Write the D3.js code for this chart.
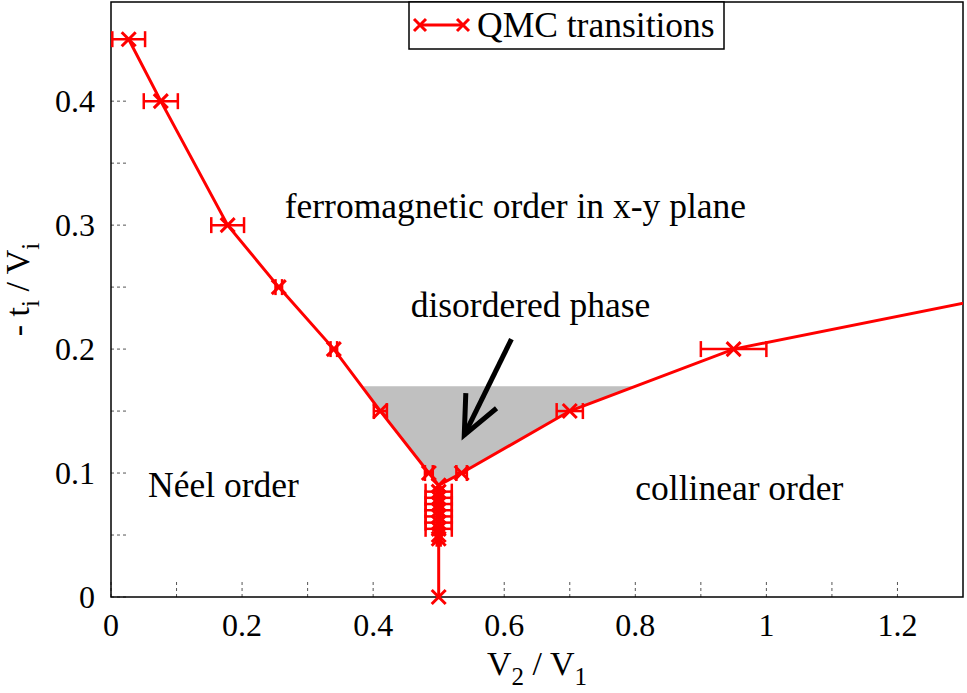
<!DOCTYPE html>
<html lang="en">
<head>
    <meta charset="UTF-8">
    <script src="https://d3js.org/d3.v7.min.js"></script>
    <title>QMC phase diagram</title>
    <style>
        body { margin: 0; background: white; }
    </style>
</head>
<body>
    <div class="fig"></div>
    <script>
        /*------------------- Data --------------------*/
        // main transition line (Neel -> disordered -> collinear)
        const mainX   = [0.027, 0.076, 0.178, 0.256, 0.340, 0.411, 0.485, 0.500, 0.535, 0.700, 0.950, 1.500];
        const mainY   = [0.45, 0.40, 0.30, 0.25, 0.20, 0.15, 0.10, 0.09, 0.10, 0.15, 0.20, 0.258];
        const mainErr = [0.025, 0.026, 0.025, 0.005, 0.005, 0.010, 0.006, 0.000, 0.008, 0.020, 0.050, 0.000];

        // vertical branch at V2/V1 = 0.5
        const vertX   = [0.5, 0.5, 0.5, 0.5, 0.5, 0.5, 0.5, 0.5, 0.5, 0.5, 0.5];
        const vertY   = [0.09, 0.085, 0.08, 0.075, 0.07, 0.065, 0.06, 0.055, 0.05, 0.047, 0.0];
        const vertErr = [0.0, 0.02, 0.02, 0.02, 0.02, 0.02, 0.02, 0.02, 0.003, 0.003, 0.0];

        // shaded disordered region
        const shadeX = [0.385, 0.411, 0.485, 0.500, 0.535, 0.700, 0.800];
        const shadeY = [0.17, 0.15, 0.10, 0.09, 0.10, 0.15, 0.17];

        const xTicks = [0, 0.2, 0.4, 0.6, 0.8, 1.0, 1.2];
        const xMinor = [0.1, 0.3, 0.5, 0.7, 0.9, 1.1];
        const yTicks = [0, 0.1, 0.2, 0.3, 0.4];
        const yMinor = [0.05, 0.15, 0.25, 0.35, 0.45];

        // annotation labels: [text, x, y, anchor]
        const labels = [
            ["ferromagnetic order in x-y plane", 0.617, 0.306, "middle"],
            ["disordered phase", 0.640, 0.226, "middle"],
            ["Néel order", 0.0565, 0.0805, "start"],
            ["collinear order", 0.800, 0.0785, "start"]
        ];
        const arrowFrom = [0.611, 0.208];
        const arrowTo = [0.539, 0.1306];

        /*------------------- Layout --------------------*/
        const width = 967, height = 693;
        const margin = { top: 2, right: 4, bottom: 96, left: 111 };
        const red = "#ff0000";
        const serif = "'Liberation Serif', 'Times New Roman', 'DejaVu Serif', serif";

        const svg = d3.select(".fig").append("svg")
            .attr("width", width)
            .attr("height", height)
            .attr("font-family", serif);

        const x = d3.scaleLinear().domain([0, 1.3]).range([margin.left, width - margin.right]);
        const y = d3.scaleLinear().domain([0, 0.48]).range([height - margin.bottom, margin.top]);

        svg.append("clipPath").attr("id", "plotclip")
            .append("rect")
            .attr("x", x(0)).attr("y", y(0.48))
            .attr("width", x(1.3) - x(0)).attr("height", y(0) - y(0.48));

        // shaded region
        svg.append("path")
            .datum(d3.zip(shadeX, shadeY))
            .attr("d", d3.line().x(d => x(d[0])).y(d => y(d[1])))
            .attr("fill", "#c0c0c0")
            .attr("stroke", "none");

        // ticks (short dashed marks inside the frame)
        const tickLen = 16;
        svg.append("g").selectAll("line")
            .data(xTicks.concat(xMinor))
            .join("line")
            .attr("x1", d => x(d)).attr("x2", d => x(d))
            .attr("y1", y(0)).attr("y2", y(0) - tickLen)
            .attr("stroke", "#555").attr("stroke-width", 1)
            .attr("stroke-dasharray", "3,3");
        svg.append("g").selectAll("line")
            .data(yTicks.concat(yMinor))
            .join("line")
            .attr("x1", x(0)).attr("x2", x(0) + tickLen)
            .attr("y1", d => y(d)).attr("y2", d => y(d))
            .attr("stroke", "#555").attr("stroke-width", 1)
            .attr("stroke-dasharray", "3,3");

        // tick labels
        svg.append("g").selectAll("text")
            .data(xTicks)
            .join("text")
            .attr("x", d => x(d))
            .attr("y", y(0) + 39)
            .attr("text-anchor", "middle")
            .attr("font-size", 32)
            .text(d => +d.toFixed(1));
        svg.append("g").selectAll("text")
            .data(yTicks)
            .join("text")
            .attr("x", x(0) - 16)
            .attr("y", d => y(d) + 11)
            .attr("text-anchor", "end")
            .attr("font-size", 32)
            .text(d => +d.toFixed(1));

        // axis titles
        const xt = svg.append("text")
            .attr("x", (x(0) + x(1.3)) / 2)
            .attr("y", 675)
            .attr("text-anchor", "middle")
            .attr("font-size", 34);
        xt.append("tspan").text("V");
        xt.append("tspan").attr("dy", 10).attr("font-size", 25).text("2");
        xt.append("tspan").attr("dy", -10).text(" / V");
        xt.append("tspan").attr("dy", 10).attr("font-size", 25).text("1");

        const yt = svg.append("text")
            .attr("transform", `translate(29, ${(y(0) + y(0.48)) / 2 - 10}) rotate(-90)`)
            .attr("text-anchor", "middle")
            .attr("font-size", 34);
        yt.append("tspan").text("- t");
        yt.append("tspan").attr("dy", 10).attr("font-size", 25).text("i");
        yt.append("tspan").attr("dy", -10).text(" / V");
        yt.append("tspan").attr("dy", 10).attr("font-size", 25).text("i");

        // annotations
        svg.append("g").selectAll("text")
            .data(labels)
            .join("text")
            .attr("x", d => x(d[1]))
            .attr("y", d => y(d[2]))
            .attr("text-anchor", d => d[3])
            .attr("font-size", 35.5)
            .text(d => d[0]);

        // arrow
        const ax0 = x(arrowFrom[0]), ay0 = y(arrowFrom[1]);
        const ax1 = x(arrowTo[0]), ay1 = y(arrowTo[1]);
        const ang = Math.atan2(ay1 - ay0, ax1 - ax0);
        const headLen = 42, headAng = 0.42;
        svg.append("line")
            .attr("x1", ax0).attr("y1", ay0).attr("x2", ax1).attr("y2", ay1)
            .attr("stroke", "black").attr("stroke-width", 5);
        svg.append("path")
            .attr("d", `M${ax1 - headLen * Math.cos(ang - headAng)},${ay1 - headLen * Math.sin(ang - headAng)}
                        L${ax1},${ay1}
                        L${ax1 - headLen * Math.cos(ang + headAng)},${ay1 - headLen * Math.sin(ang + headAng)}`)
            .attr("fill", "none").attr("stroke", "black").attr("stroke-width", 5);

        // frame
        svg.append("rect")
            .attr("x", x(0)).attr("y", y(0.48))
            .attr("width", x(1.3) - x(0)).attr("height", y(0) - y(0.48))
            .attr("fill", "none").attr("stroke", "black").attr("stroke-width", 1.5);

        /*------------------- Series --------------------*/
        function drawSeries(xs, ys, errs) {
            const pts = d3.range(xs.length).map(i => ({ x: xs[i], y: ys[i], e: errs[i] }));
            svg.append("path")
                .datum(pts)
                .attr("clip-path", "url(#plotclip)")
                .attr("d", d3.line().x(d => x(d.x)).y(d => y(d.y)))
                .attr("fill", "none").attr("stroke", red).attr("stroke-width", 3);

            const inside = pts.filter(d => d.x <= 1.3);
            const eb = svg.append("g").attr("stroke", red).attr("stroke-width", 2.5);
            inside.filter(d => d.e > 0).forEach(d => {
                const l = x(d.x - d.e), r = x(d.x + d.e), cy = y(d.y);
                eb.append("line").attr("x1", l).attr("x2", r).attr("y1", cy).attr("y2", cy);
                eb.append("line").attr("x1", l).attr("x2", l).attr("y1", cy - 8).attr("y2", cy + 8);
                eb.append("line").attr("x1", r).attr("x2", r).attr("y1", cy - 8).attr("y2", cy + 8);
            });
            const s = 7;
            const mk = svg.append("g").attr("stroke", red).attr("stroke-width", 3);
            inside.forEach(d => {
                const cx = x(d.x), cy = y(d.y);
                mk.append("path").attr("d", `M${cx - s},${cy - s}L${cx + s},${cy + s}M${cx - s},${cy + s}L${cx + s},${cy - s}`);
            });
        }
        drawSeries(mainX, mainY, mainErr);
        drawSeries(vertX, vertY, vertErr);

        /*------------------- Legend --------------------*/
        const lg = svg.append("g");
        lg.append("rect")
            .attr("x", 409).attr("y", 2).attr("width", 315).attr("height", 47)
            .attr("fill", "white").attr("stroke", "black").attr("stroke-width", 1.5);
        lg.append("line").attr("x1", 420).attr("x2", 463).attr("y1", 25).attr("y2", 25)
            .attr("stroke", red).attr("stroke-width", 3);
        [420, 463].forEach(cx => {
            lg.append("path").attr("d", `M${cx - 6},${19}L${cx + 6},${31}M${cx - 6},${31}L${cx + 6},${19}`)
                .attr("stroke", red).attr("stroke-width", 3);
        });
        lg.append("text").attr("x", 477).attr("y", 37).attr("font-size", 35.5).text("QMC transitions");
    </script>
</body>
</html>
